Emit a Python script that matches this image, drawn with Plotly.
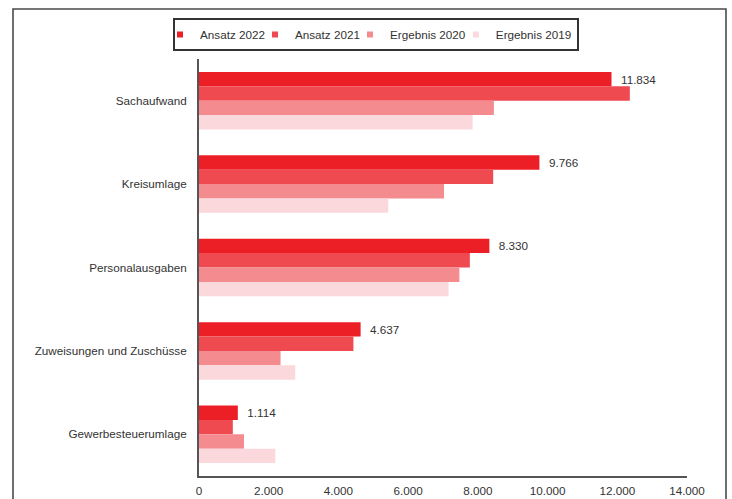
import plotly.graph_objects as go

categories = ["Sachaufwand", "Kreisumlage", "Personalausgaben", "Zuweisungen und Zuschüsse", "Gewerbesteuerumlage"]
series_names = ["Ansatz 2022", "Ansatz 2021", "Ergebnis 2020", "Ergebnis 2019"]
ansatz_2022 = [11834, 9766, 8330, 4637, 1114]
ansatz_2021 = [12360, 8440, 7770, 4430, 970]
ergebnis_2020 = [8460, 7030, 7470, 2340, 1290]
ergebnis_2019 = [7850, 5430, 7160, 2760, 2190]
tick_values = [0, 2000, 4000, 6000, 8000, 10000, 12000, 14000]

colors = ["#ec1f27", "#ee4a50", "#f38b8f", "#fbd8dc"]
values = [ansatz_2022, ansatz_2021, ergebnis_2020, ergebnis_2019]
FONT = "Liberation Sans, Arial, sans-serif"
FS = 11.7

fig = go.Figure()
for i, (name, vals) in enumerate(zip(series_names, values)):
    kw = {}
    if i == 0:
        kw = dict(texttemplate="  %{x:,d}", textposition="outside",
                  textfont=dict(size=FS, color="#333333", family=FONT),
                  cliponaxis=False)
    fig.add_trace(go.Bar(
        y=categories, x=vals, name=name, orientation="h",
        marker=dict(color=colors[i], line=dict(width=0)),
        showlegend=False, legendgroup=name, **kw))

# legend entries with small square markers (as in the reference)
for i, name in enumerate(series_names):
    fig.add_trace(go.Scatter(
        x=[None], y=[None], mode="markers", name=name, legendgroup=name,
        marker=dict(symbol="square", size=6, color=colors[i]),
        legendrank=i + 1, showlegend=True))

fig.update_layout(
    width=732, height=499,
    margin=dict(l=199, r=45, t=59, b=23, autoexpand=False),
    paper_bgcolor="white", plot_bgcolor="white",
    separators=",.",
    barmode="group", bargap=0.31, bargroupgap=0,
    font=dict(family=FONT, size=FS, color="#333333"),
    showlegend=True,
    legend=dict(orientation="h", x=(376 - 199) / 488, xanchor="center",
                y=1 + (59 - 18) / 417, yanchor="top",
                bordercolor="#333333", borderwidth=2, bgcolor="white",
                font=dict(size=FS, color="#333333", family=FONT), itemwidth=30,
                indentation=-15, traceorder="normal"),
    xaxis=dict(range=[0, 14000], tickvals=tick_values, tickformat=",d",
               showgrid=False, zeroline=False, showline=True, linecolor="#555555",
               linewidth=2, ticks="", ticklabelstandoff=3, automargin=False,
               tickfont=dict(size=FS, color="#333333", family=FONT)),
    yaxis=dict(autorange="reversed", showgrid=False, zeroline=False, showline=True,
               linecolor="#555555", linewidth=2, ticks="", ticklabelstandoff=8,
               automargin=False,
               tickfont=dict(size=FS, color="#333333", family=FONT)),
    shapes=[dict(type="rect", xref="paper", yref="paper",
                 x0=(13 - 199) / 488, x1=(726 - 199) / 488,
                 y0=-0.1, y1=1 + (59 - 9) / 417,
                 line=dict(color="#4a4a4a", width=1.6), fillcolor="rgba(0,0,0,0)",
                 layer="below")],
)

fig.write_html("out.html", config={"displayModeBar": False},
               post_script="document.body.style.margin='0';document.body.style.padding='0';")
